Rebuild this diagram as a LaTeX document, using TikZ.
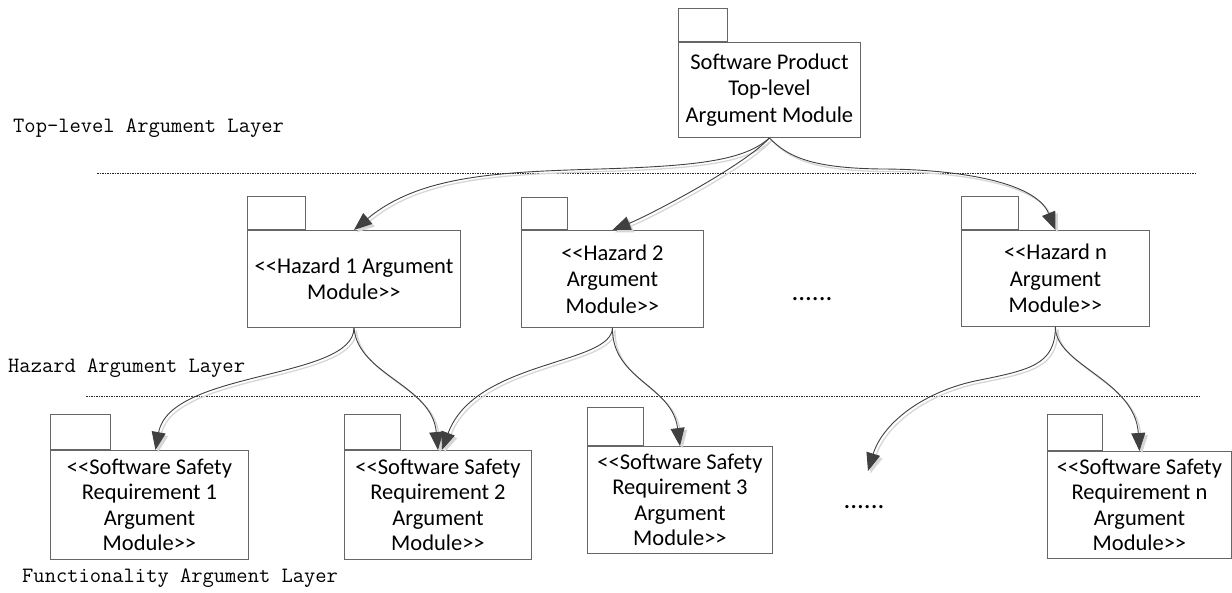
\documentclass[tikz,border=0pt]{standalone}
\usepackage{fontspec}
\setmainfont{Carlito}
\newfontfamily\modfont{Carlito}[Ligatures=TeXOff]
\usetikzlibrary{arrows.meta}
\definecolor{boxline}{HTML}{666666}
\definecolor{wire}{HTML}{404040}
\definecolor{wireshade}{HTML}{D6D6D6}

% connector drawn over a soft offset shadow
\newcommand\shadedlink[1]{%
  \draw[linkshade, transform canvas={xshift=2.5pt,yshift=-2.5pt}] #1;
  \draw[link] #1;}

\begin{document}
\begin{tikzpicture}[x=1pt,y=-1pt,
  modbox/.style={draw=boxline, line width=0.9pt, fill=white, anchor=north west,
    inner sep=0pt, align=center, font=\modfont\fontsize{22.5}{26.5}\selectfont},
  ssrbox/.style={modbox, font=\modfont\fontsize{22.5}{25.2}\selectfont},
  tabbox/.style={draw=boxline, line width=0.9pt, fill=white, anchor=south west, inner sep=0pt},
  layer/.style={anchor=west, inner sep=0pt, font=\ttfamily\fontsize{21.9}{24}\selectfont},
  dots/.style={inner sep=0pt, font=\modfont\fontsize{27}{30}\selectfont},
  sep/.style={draw=black!85, line width=0.8pt, dash pattern=on 1.6pt off 0.9pt},
  link/.style={draw=wire, line width=0.9pt, -{Triangle[length=18pt,width=14pt]}},
  linkshade/.style={draw=wireshade, line width=1.3pt, -{Triangle[length=18pt,width=14pt]}}
]
\useasboundingbox (0,0) rectangle (1232,593);

% layer separators
\coordinate (sepAw) at (97,173);  \coordinate (sepAe) at (1195,173);
\coordinate (sepBw) at (86,396);  \coordinate (sepBe) at (1200,396);
\draw[sep] (sepAw) -- (sepAe);
\draw[sep] (sepBw) -- (sepBe);

% layer captions
\node[layer] (capTop) at (13,128) {Top-level Argument Layer};
\node[layer] (capHaz) at (8,368) {Hazard Argument Layer};
\node[layer] (capFun) at (22,578) {Functionality Argument Layer};

% top-level module
\node[modbox, minimum width=182pt, minimum height=95pt] (top) at (678,42)
  {Software Product\\Top-level\\Argument Module};
\node[tabbox, minimum width=49pt, minimum height=33pt] (topTab) at (top.north west) {};

% hazard modules
\node[modbox, minimum width=213pt, minimum height=97pt] (h1) at (247,230)
  {<<Hazard 1 Argument\\Module>>};
\node[tabbox, minimum width=58pt, minimum height=33pt] (h1Tab) at (h1.north west) {};

\node[modbox, minimum width=182pt, minimum height=97pt] (h2) at (521,230)
  {<<Hazard 2\\Argument\\Module>>};
\node[tabbox, minimum width=46pt, minimum height=32pt] (h2Tab) at (h2.north west) {};

\node[modbox, minimum width=188pt, minimum height=96pt] (hn) at (961,230)
  {<<Hazard n\\Argument\\Module>>};
\node[tabbox, minimum width=57pt, minimum height=33pt] (hnTab) at (hn.north west) {};

\node[dots] (hDots) at (812,299) {......};

% software safety requirement modules
\node[ssrbox, minimum width=198pt, minimum height=109pt] (s1) at (50,450)
  {<<Software Safety\\Requirement 1\\Argument\\Module>>};
\node[tabbox, minimum width=60pt, minimum height=35pt] (s1Tab) at (s1.north west) {};

\node[ssrbox, minimum width=187pt, minimum height=109pt] (s2) at (344,450)
  {<<Software Safety\\Requirement 2\\Argument\\Module>>};
\node[tabbox, minimum width=56pt, minimum height=35pt] (s2Tab) at (s2.north west) {};

\node[ssrbox, minimum width=185pt, minimum height=107pt] (s3) at (587,446)
  {<<Software Safety\\Requirement 3\\Argument\\Module>>};
\node[tabbox, minimum width=56pt, minimum height=38pt] (s3Tab) at (s3.north west) {};

\node[ssrbox, minimum width=184pt, minimum height=107pt] (sn) at (1047,451)
  {<<Software Safety\\Requirement n\\Argument\\Module>>};
\node[tabbox, minimum width=55pt, minimum height=36pt] (snTab) at (sn.north west) {};

\node[dots] (sDots) at (864,507) {......};
\coordinate (sOpen) at (868,471);

% connectors: top-level to hazards
\shadedlink{(top.south) .. controls (745,160) and (700,166) .. (600,169)
  .. controls (500,172) and (420,175) .. (h1.north)}
\shadedlink{(top.south) .. controls (745,165) and (650,215) .. (h2.north)}
\shadedlink{(top.south) .. controls (790,160) and (820,168) .. (880,169)
  .. controls (950,169) and (1035,180) .. (hn.north)}

% connectors: hazards to requirements
\shadedlink{(h1.south) .. controls (354,380) and (170,370) .. ([xshift=6pt]s1.north)}
\shadedlink{(h1.south) .. controls (358,375) and (432,385) .. (s2.north)}
\shadedlink{(h2.south) .. controls (612,365) and (475,360) .. ([xshift=4pt]s2.north)}
\shadedlink{(h2.south) .. controls (612,380) and (672,385) .. (s3.north)}
\shadedlink{(hn.south) .. controls (1055,365) and (1030,370) .. (975,381)
  .. controls (920,393) and (882,425) .. (sOpen)}
\shadedlink{(hn.south) .. controls (1055,365) and (1135,380) .. (sn.north)}
\end{tikzpicture}
\end{document}
